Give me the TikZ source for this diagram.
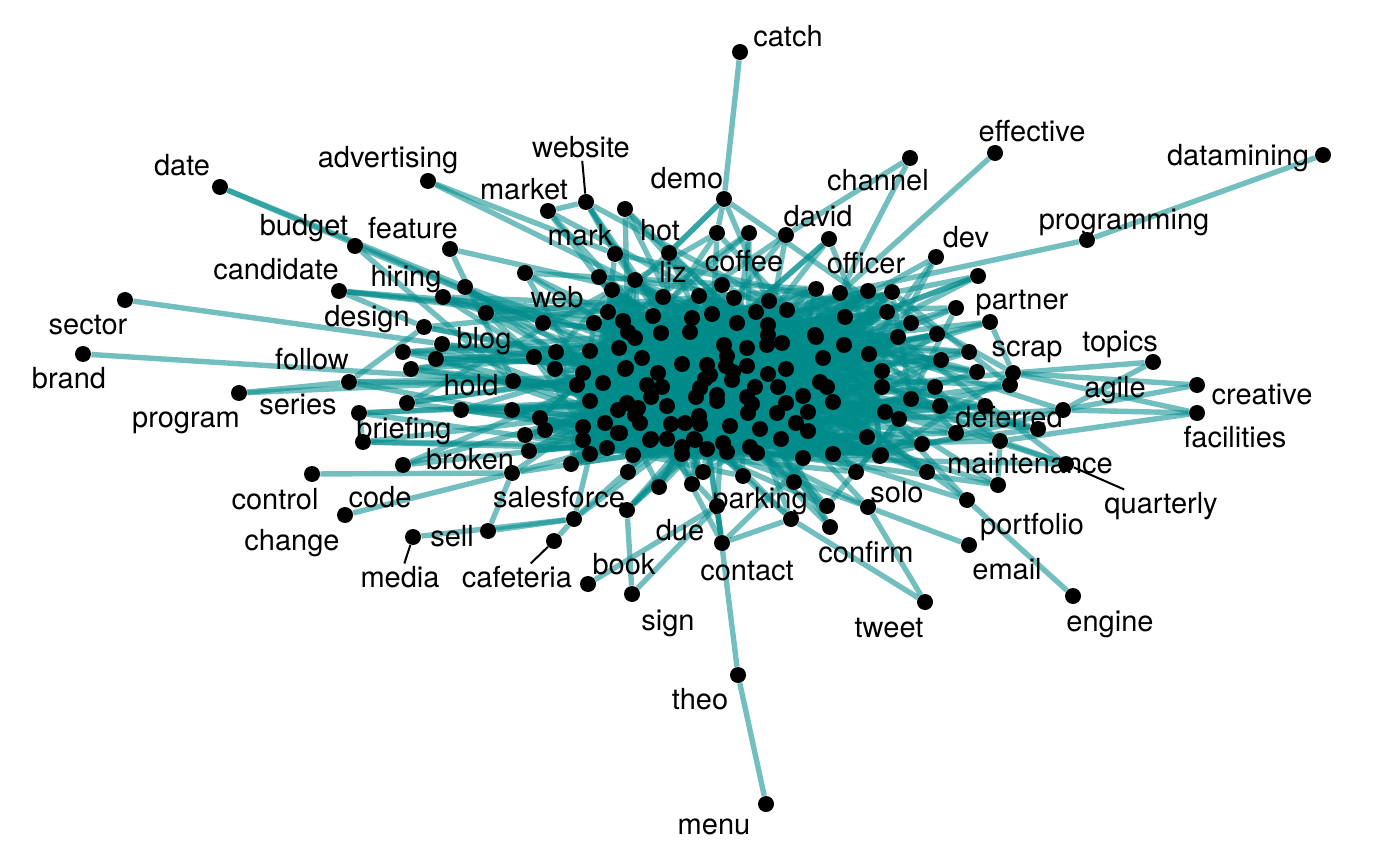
\documentclass[tikz,border=0pt]{standalone}
\usepackage{fontspec}
\setmainfont{TeX Gyre Heros}
\definecolor{netteal}{RGB}{0,139,139}
\pgfdeclarelayer{edges}
\pgfsetlayers{edges,main}
\begin{document}
\begin{tikzpicture}[x=0.5pt,y=-0.5pt,
    vertex/.style={circle, fill=black, inner sep=0pt, minimum size=8pt},
    edge/.style={draw=netteal, opacity=0.55, line width=2.7pt},
    word/.style={anchor=base, inner sep=1pt, font=\fontsize{14.5}{17}\selectfont},
    lead/.style={draw=black, line width=1pt}]
  \useasboundingbox (0,0) rectangle (1400,865);
  % unlabelled vertices of the dense core
  \foreach \x/\y [count=\i] in {635/280, 612/290, 699/296, 608/312, 594/323, 623/321, 653/316, 692/318, 712/314, 628/332, 661/333, 690/332, 734/298, 769/301, 816/289, 868/291, 892/292, 737/323, 756/312, 787/310, 768/325, 845/317, 887/312, 815/335, 898/337, 768/335, 590/351, 619/348, 583/373, 577/385, 603/383, 626/368, 590/401, 627/403, 618/410, 635/415, 605/423, 618/433, 583/427, 583/440, 607/448, 590/454, 571/464, 633/455, 635/338, 642/358, 625/369, 682/364, 724/345, 727/356, 726/366, 733/372, 732/380, 747/348, 747/366, 707/365, 710/375, 705/379, 700/388, 696/397, 717/395, 717/401, 658/373, 662/387, 647/385, 651/397, 667/406, 638/408, 640/423, 768/374, 786/369, 755/387, 747/397, 752/404, 748/413, 778/387, 786/403, 777/413, 803/396, 823/358, 820/382, 827/387, 833/402, 808/412, 796/423, 808/431, 699/416, 700/424, 685/423, 671/424, 730/426, 760/429, 651/439, 667/439, 694/439, 682/447, 682/454, 707/449, 723/443, 727/452, 750/447, 757/453, 781/439, 803/458, 833/454, 620/433, 767/345, 782/343, 844/345, 816/337, 869/354, 882/371, 882/387, 885/412, 899/419, 867/437, 881/455, 650/440, 695/440, 880/456}
    {\node[vertex] (in\i) at (\x,\y) {}; \xdef\nin{\i}}
  % unlabelled vertices round the core
  \foreach \x/\y [count=\i] in {625/209, 717/233, 525/273, 599/277, 486/313, 749/233, 829/239, 911/323, 956/308, 937/334, 443/297, 403/352, 436/359, 411/369, 407/403, 461/410, 556/352, 534/357, 555/369, 512/410, 540/418, 545/430, 525/435, 529/451, 978/276, 969/352, 941/360, 977/372, 1010/385, 935/387, 911/399, 940/406, 985/406, 1038/429, 956/433, 922/444, 627/510, 628/472, 659/487, 692/484, 703/472, 743/476, 794/482, 856/472, 927/472, 827/506}
    {\node[vertex] (out\i) at (\x,\y) {}; \xdef\nout{\i}}
  % labelled vertices
  \foreach \n/\x/\y in {catch/740/52, date/220/187, advertising/428/181, website/586/202, market/548/211, demo/724/199, channel/910/158, effective/995/153, datamining/1323/155, budget/355/246, feature/450/249, mark/615/254, hot/669/253, david/786/235, programming/1087/240, dev/936/257, candidate/339/291, hiring/465/287, liz/663/297, coffee/722/285, officer/840/293, sector/125/300, web/543/323, design/424/327, partner/990/322, blog/442/344, scrap/1013/373, topics/1153/362, brand/83/354, follow/349/382, hold/513/381, agile/1063/410, creative/1197/385, program/239/393, series/359/413, briefing/363/442, deferred/1000/441, facilities/1197/413, broken/512/473, maintenance/998/485, quarterly/1066/464, control/312/474, code/403/465, salesforce/574/519, parking/791/519, solo/868/507, change/345/515, portfolio/967/500, sell/488/531, due/717/506, confirm/830/527, media/413/537, cafeteria/554/541, book/588/584, contact/722/543, email/969/545, sign/632/594, tweet/925/602, engine/1073/596, theo/738/675, menu/766/804}
    \node[vertex] (\n) at (\x,\y) {};
  % labels
  \foreach \n/\x/\y in {catch/788/47, date/182/176, advertising/388/168, website/581/158, market/524/200, demo/687/189, channel/878/191, effective/1032/142, datamining/1238/166, budget/304/236, feature/413/239, mark/580/246, hot/660/241, david/818/227, programming/1124/230, dev/966/248, candidate/276/280, hiring/406/287, liz/673/283, coffee/744/272, officer/866/274, sector/88/335, web/557/308, design/367/327, partner/1022/310, blog/484/349, scrap/1027/357, topics/1120/352, brand/69/388, follow/312/370, hold/471/395, agile/1115/398, creative/1262/404, program/186/427, series/298/415, briefing/404/438, deferred/1009/428, facilities/1235/447, broken/470/469, maintenance/1030/473, quarterly/1161/513, control/275/509, code/380/507, salesforce/559/507, parking/760/508, solo/897/502, change/292/550, portfolio/1032/534, sell/452/546, due/680/540, confirm/866/562, media/400/587, cafeteria/517/587, book/624/574, contact/747/580, email/1007/579, sign/668/630, tweet/889/637, engine/1110/631, theo/700/709, menu/714/834}
    \node[word] (l-\n) at (\x,\y) {\n};
  \foreach \n in {website, quarterly, media, cafeteria}
    \draw[lead] (l-\n) -- (\n);
  \begin{pgfonlayer}{edges}
    % dense core
    \foreach \i in {1,...,\nin}
      \foreach \k in {1,...,5} {
        \pgfmathtruncatemacro\j{mod(\i*17+\k*29,\nin)+1}
        \draw[edge] (in\i) -- (in\j);
      }
    \foreach \i in {1,...,\nout}
      \foreach \k in {1,...,4} {
        \pgfmathtruncatemacro\j{mod(\i*37+\k*23,\nin)+1}
        \draw[edge] (out\i) -- (in\j);
      }
    \foreach \n [count=\i] in {market, website, mark, hot, demo, david, dev, candidate, hiring, liz, coffee, officer, web, design, partner, blog, scrap, follow, hold, agile, series, briefing, deferred, broken, maintenance, quarterly, code, salesforce, parking, solo, portfolio, due, confirm, contact}
      \foreach \k in {1,2,3} {
        \pgfmathtruncatemacro\j{mod(\i*41+\k*19,\nin)+1}
        \draw[edge] (\n) -- (in\j);
      }
    % edges out to the rim
    \foreach \a/\b in {catch/demo, date/hiring, date/web, advertising/mark, advertising/liz, channel/david, channel/officer, effective/officer, datamining/programming, programming/officer, budget/web, budget/hold, feature/liz, feature/hold, sector/blog, brand/hold, program/hold, program/follow, control/broken, change/broken, media/salesforce, sell/salesforce, sell/broken, cafeteria/salesforce, book/due, sign/due, sign/out37, theo/menu, theo/due, contact/due, contact/parking, tweet/solo, tweet/parking, email/solo, engine/portfolio, topics/scrap, topics/agile, creative/scrap, creative/agile, facilities/scrap, facilities/agile, facilities/deferred, quarterly/deferred, maintenance/deferred, market/website, website/mark, demo/hot, demo/out2, partner/scrap, candidate/design, follow/design, series/briefing}
      \draw[edge] (\a) -- (\b);
  \end{pgfonlayer}
\end{tikzpicture}
\end{document}
